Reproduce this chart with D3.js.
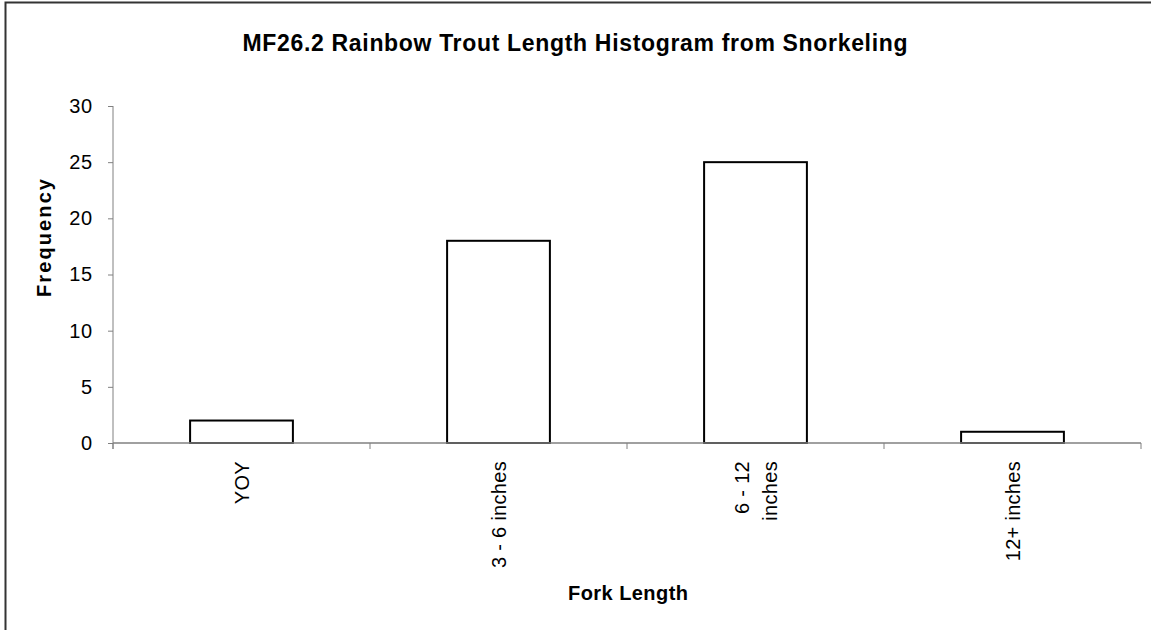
<!DOCTYPE html>
<html>
<head>
<meta charset="utf-8">
<script src="https://cdn.jsdelivr.net/npm/d3@7"></script>
<style>
  body { margin: 0; background: #fff; }
  svg { display: block; font-family: "Liberation Sans", Arial, sans-serif; }
</style>
</head>
<body>
<div id="chart"></div>
<script>
var categories = [['YOY'], ['3 - 6 inches'], ['6 - 12', 'inches'], ['12+ inches']];
var frequency = [2, 18, 25, 1];
var yTicks = [0, 5, 10, 15, 20, 25, 30];

var width = 1151, height = 630;
var margin = {top: 106, right: 10, bottom: 187, left: 113};
var xEnd = 1141;

var svg = d3.select('#chart').append('svg')
  .attr('width', width)
  .attr('height', height);

// outer chart frame (right/bottom run off the picture)
svg.append('rect')
  .attr('x', 5.5).attr('y', 2.5)
  .attr('width', width + 20).attr('height', height + 20)
  .attr('fill', 'none')
  .attr('stroke', '#333')
  .attr('stroke-width', 2);

var x = d3.scaleBand()
  .domain(d3.range(categories.length))
  .range([margin.left, xEnd])
  .paddingInner(0.6).paddingOuter(0.3);

var xOuter = d3.scaleBand()
  .domain(d3.range(categories.length))
  .range([margin.left, xEnd]);

var y = d3.scaleLinear()
  .domain([0, 30])
  .range([443, margin.top]);

svg.append('text')
  .attr('x', 575).attr('y', 51)
  .attr('text-anchor', 'middle')
  .attr('textLength', 665)
  .attr('lengthAdjust', 'spacing')
  .style('font-size', '23px')
  .style('font-weight', 'bold')
  .text('MF26.2 Rainbow Trout Length Histogram from Snorkeling');

// y axis
var yAxis = svg.append('g')
  .attr('transform', 'translate(' + margin.left + ',0)')
  .call(d3.axisLeft(y).tickValues(yTicks).tickSize(5).tickPadding(15));
yAxis.select('.domain').attr('stroke', '#808080').attr('d', 'M0,' + y(30) + 'V449');
yAxis.selectAll('.tick line').attr('stroke', '#808080');
yAxis.selectAll('.tick text')
  .style('font-size', '20px')
  .style('letter-spacing', '0.8px')
  .attr('fill', '#000')
  .attr('font-family', '"Liberation Sans", Arial, sans-serif');

// bars
svg.selectAll('rect.bar')
  .data(frequency)
  .enter().append('rect')
  .attr('class', 'bar')
  .attr('x', function(d, i){ return x(i); })
  .attr('width', x.bandwidth())
  .attr('y', function(d){ return y(d); })
  .attr('height', function(d){ return y(0) - y(d); })
  .attr('fill', '#fff')
  .attr('stroke', '#000')
  .attr('stroke-width', 2);

// x axis line + ticks at category boundaries
var xg = svg.append('g');
xg.append('line')
  .attr('x1', margin.left).attr('x2', xEnd)
  .attr('y1', y(0)).attr('y2', y(0))
  .attr('stroke', '#808080').attr('stroke-width', 1.5);
var bounds = d3.range(categories.length + 1).map(function(i){
  return i < categories.length ? xOuter(i) : xOuter(i - 1) + xOuter.bandwidth();
});
xg.selectAll('line.tick')
  .data(bounds)
  .enter().append('line')
  .attr('class', 'tick')
  .attr('x1', function(d){ return d; }).attr('x2', function(d){ return d; })
  .attr('y1', y(0)).attr('y2', y(0) + 6)
  .attr('stroke', '#808080');

// rotated category labels
var lab = svg.selectAll('text.cat')
  .data(categories)
  .enter().append('text')
  .attr('class', 'cat')
  .attr('transform', function(d, i){
    var cx = xOuter(i) + xOuter.bandwidth() / 2;
    var shift = (d.length - 1) * 14;
    return 'translate(' + (cx + 7 - shift) + ',461) rotate(-90)';
  })
  .attr('text-anchor', 'end')
  .style('font-size', '20px')
  .style('letter-spacing', '0.3px');
lab.selectAll('tspan')
  .data(function(d){ return d; })
  .enter().append('tspan')
  .attr('x', 0)
  .attr('dy', function(d, i){ return i === 0 ? 0 : 28; })
  .text(function(d){ return d; });

// axis titles
svg.append('text')
  .attr('transform', 'translate(51,' + 238 + ') rotate(-90)')
  .attr('text-anchor', 'middle')
  .attr('textLength', 118)
  .attr('lengthAdjust', 'spacing')
  .style('font-size', '20px')
  .style('font-weight', 'bold')
  .text('Frequency');

svg.append('text')
  .attr('x', 628).attr('y', 600)
  .attr('text-anchor', 'middle')
  .attr('textLength', 120)
  .attr('lengthAdjust', 'spacing')
  .style('font-size', '20px')
  .style('font-weight', 'bold')
  .text('Fork Length');
</script>
</body>
</html>
